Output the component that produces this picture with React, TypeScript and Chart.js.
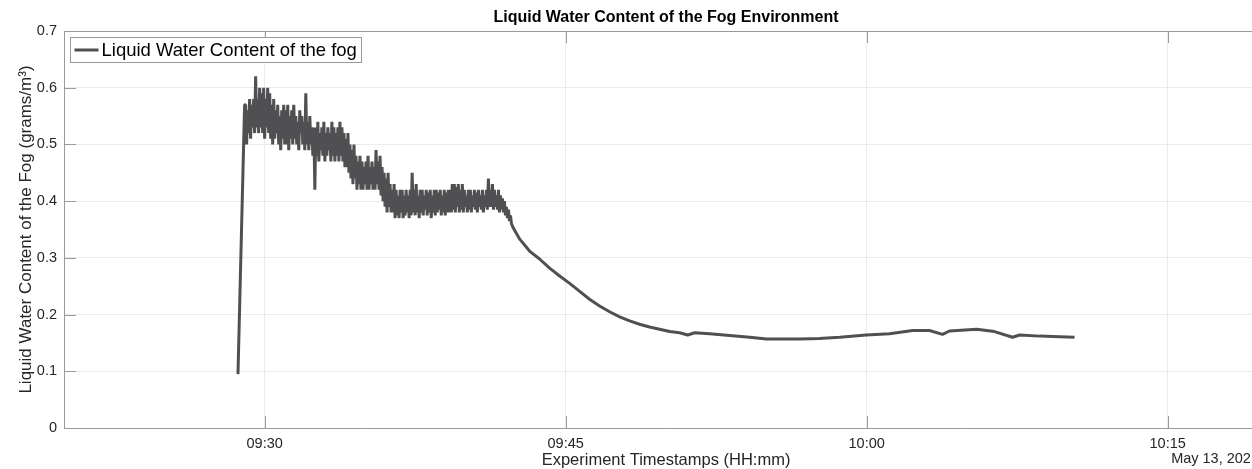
import { useEffect, useRef } from 'react';
import { Chart, registerables } from 'chart.js';

Chart.register(...registerables);

// ---------- text ----------
const chartTitle = 'Liquid Water Content of the Fog Environment';
const seriesLabel = 'Liquid Water Content of the fog';
const yAxisTitle = 'Liquid Water Content of the Fog (grams/m\u00B3)';
const xAxisTitle = 'Experiment Timestamps (HH:mm)';
const dateLabel = 'May 13, 2021';

// ---------- axes (time in minutes after midnight) ----------
const xMin = 560; // 09:20
const xMax = 620; // 10:20
const xTickMinutes = [570, 585, 600, 615];
const xTickLabels = ['09:30', '09:45', '10:00', '10:15'];
const yMin = 0;
const yMax = 0.7;
const yStep = 0.1;

// ---------- data ----------
// sharp rise at the start of the fog
const riseTimes = [568.67, 569.0];
const riseValues = [0.095, 0.57];

// noisy part: every 0.1 min from 09:29:03 the sensor swings between an upper and a lower reading
const noisyStart = 569.05;
const noisyStep = 0.1;
const noisyUpper = [
  0.57, 0.56, 0.58, 0.57, 0.58, 0.62,
  0.58, 0.60, 0.59, 0.60, 0.58, 0.60, 0.59,
  0.57, 0.58, 0.56, 0.57, 0.55, 0.56, 0.57,
  0.56, 0.57, 0.55, 0.56, 0.57, 0.55, 0.54, 0.56, 0.55, 0.54,
  0.59,
  0.54, 0.55, 0.53,
  0.53,
  0.53, 0.54, 0.52, 0.53, 0.54, 0.52, 0.53, 0.52, 0.54, 0.53, 0.52,
  0.53, 0.54, 0.53, 0.52, 0.51,
  0.52, 0.50, 0.49, 0.50, 0.48, 0.47, 0.48,
  0.47, 0.46, 0.47, 0.48, 0.46, 0.47, 0.46,
  0.49,
  0.47, 0.48, 0.46, 0.45, 0.44, 0.45, 0.43,
  0.42, 0.43, 0.42, 0.41, 0.42, 0.42, 0.41, 0.42, 0.41, 0.42,
  0.45,
  0.42, 0.43, 0.41, 0.42, 0.42, 0.41, 0.42, 0.415, 0.42, 0.41, 0.42, 0.42, 0.415, 0.42, 0.41, 0.42, 0.415, 0.42,
  0.42, 0.43, 0.43, 0.425, 0.43, 0.42, 0.43, 0.42, 0.41, 0.42,
  0.42, 0.41, 0.42, 0.415, 0.42, 0.41, 0.42, 0.41, 0.42,
  0.44,
  0.42, 0.43, 0.42, 0.41, 0.42,
  0.41, 0.405, 0.40, 0.39, 0.385, 0.375,
];
const noisyLower = [
  0.50, 0.52, 0.51, 0.53, 0.52, 0.53,
  0.52, 0.53, 0.52, 0.51, 0.53, 0.52, 0.51,
  0.50, 0.51, 0.52, 0.50, 0.49, 0.51, 0.50,
  0.50, 0.49, 0.51, 0.50, 0.51, 0.50, 0.49, 0.52, 0.50, 0.49,
  0.50,
  0.49, 0.50, 0.48,
  0.42,
  0.48, 0.47, 0.49, 0.48, 0.47, 0.48, 0.49, 0.47, 0.48, 0.47, 0.48,
  0.47, 0.48, 0.47, 0.46, 0.46,
  0.45, 0.44, 0.43, 0.44, 0.42, 0.43, 0.42,
  0.42, 0.43, 0.42, 0.42, 0.43, 0.42, 0.42,
  0.43,
  0.42, 0.41, 0.40, 0.39, 0.38, 0.39, 0.38,
  0.38, 0.37, 0.375, 0.37, 0.38, 0.37, 0.375, 0.38, 0.37, 0.375,
  0.38,
  0.375, 0.38, 0.37, 0.38, 0.375, 0.385, 0.375, 0.38, 0.37, 0.38, 0.375, 0.38, 0.385, 0.375, 0.38, 0.375, 0.38, 0.38,
  0.38, 0.385, 0.38, 0.39, 0.38, 0.385, 0.38, 0.39, 0.38, 0.385,
  0.38, 0.39, 0.385, 0.38, 0.39, 0.385, 0.38, 0.39, 0.385,
  0.39,
  0.39, 0.385, 0.39, 0.385, 0.38,
  0.385, 0.38, 0.375, 0.37, 0.365, 0.36,
];

// smooth decay and plateau
const smoothTimes = [
  582.4, 582.71, 583.2, 583.7, 584.2, 584.7, 585.2, 585.7, 586.19, 586.69,
  587.19, 587.69, 588.19, 588.68, 589.18, 589.68, 590.18, 590.68, 591.08, 591.43,
  592.17, 593.17, 594.17, 595.01, 595.91, 596.66, 597.65, 598.65, 599.99, 601.14,
  602.29, 603.13, 603.78, 604.13, 605.48, 606.37, 607.27, 607.62, 608.62, 609.61,
  610.36,
];
const smoothValues = [
  0.352, 0.333, 0.312, 0.298, 0.282, 0.268, 0.255, 0.241, 0.227, 0.215,
  0.205, 0.196, 0.189, 0.183, 0.178, 0.174, 0.17, 0.168, 0.164, 0.168,
  0.166, 0.163, 0.16, 0.157, 0.157, 0.157, 0.158, 0.16, 0.164, 0.166,
  0.172, 0.172, 0.165, 0.171, 0.174, 0.17, 0.16, 0.164, 0.162, 0.161,
  0.16,
];

// ---------- styles ----------
const FONT = "'Liberation Sans', Arial, Helvetica, sans-serif";
const LINE_COLOR = '#505052';
const TEXT_COLOR = '#262626';
const AXIS_COLOR = '#9a9a9a';
const GRID_COLOR = '#ebebeb';

function buildPoints() {
  const pts: { x: number; y: number }[] = [];
  riseTimes.forEach((t, i) => pts.push({ x: t, y: riseValues[i] }));
  noisyUpper.forEach((u, i) => {
    const t = noisyStart + i * noisyStep;
    pts.push({ x: t, y: u });
    pts.push({ x: t + noisyStep / 2, y: noisyLower[i] });
  });
  smoothTimes.forEach((t, i) => pts.push({ x: t, y: smoothValues[i] }));
  return pts;
}

const matlabFrame = {
  id: 'matlabFrame',
  beforeDatasetsDraw(chart: any) {
    const { ctx, chartArea } = chart;
    const xs = chart.scales.x;
    const ys = chart.scales.y;
    const len = 12;
    ctx.save();
    ctx.strokeStyle = AXIS_COLOR;
    ctx.lineWidth = 1;
    ctx.beginPath();
    xTickMinutes.forEach((m) => {
      const px = Math.round(xs.getPixelForValue(m)) + 0.5;
      ctx.moveTo(px, chartArea.bottom);
      ctx.lineTo(px, chartArea.bottom - len);
      ctx.moveTo(px, chartArea.top);
      ctx.lineTo(px, chartArea.top + len);
    });
    ys.ticks.forEach((t: any) => {
      const py = Math.round(ys.getPixelForValue(t.value)) + 0.5;
      ctx.moveTo(chartArea.left, py);
      ctx.lineTo(chartArea.left + len, py);
      ctx.moveTo(chartArea.right, py);
      ctx.lineTo(chartArea.right - len, py);
    });
    ctx.stroke();
    ctx.restore();
  },
  afterDraw(chart: any) {
    const { ctx, chartArea } = chart;
    ctx.save();
    // box
    ctx.strokeStyle = AXIS_COLOR;
    ctx.lineWidth = 1;
    ctx.beginPath();
    ctx.moveTo(chartArea.left, Math.round(chartArea.top) + 0.5);
    ctx.lineTo(chartArea.right, Math.round(chartArea.top) + 0.5);
    ctx.moveTo(Math.round(chartArea.right) - 0.5, chartArea.top);
    ctx.lineTo(Math.round(chartArea.right) - 0.5, chartArea.bottom);
    ctx.stroke();

    // legend
    const ds = chart.data.datasets[0];
    ctx.font = `18.5px ${FONT}`;
    const tw = ctx.measureText(ds.label).width;
    const bx = Math.round(chartArea.left) + 6.5;
    const by = Math.round(chartArea.top) + 6.5;
    const bw = Math.round(tw + 36);
    const bh = 25;
    ctx.fillStyle = '#ffffff';
    ctx.fillRect(bx, by, bw, bh);
    ctx.strokeStyle = AXIS_COLOR;
    ctx.strokeRect(bx, by, bw, bh);
    ctx.strokeStyle = ds.borderColor;
    ctx.lineWidth = 3;
    ctx.beginPath();
    ctx.moveTo(bx + 4, by + bh / 2);
    ctx.lineTo(bx + 28, by + bh / 2);
    ctx.stroke();
    ctx.fillStyle = '#000000';
    ctx.textAlign = 'left';
    ctx.textBaseline = 'middle';
    ctx.fillText(ds.label, bx + 31, by + bh / 2 + 1);

    // date label
    ctx.font = `14.5px ${FONT}`;
    ctx.fillStyle = TEXT_COLOR;
    ctx.textAlign = 'right';
    ctx.textBaseline = 'middle';
    ctx.fillText(dateLabel, chartArea.right - 9, chartArea.bottom + 31);
    ctx.restore();
  },
};

export default function App() {
  const ref = useRef<HTMLCanvasElement | null>(null);

  useEffect(() => {
    document.body.style.margin = '0';
    if (!ref.current) return;
    const chart = new Chart(ref.current, {
      type: 'line',
      data: {
        datasets: [
          {
            label: seriesLabel,
            data: buildPoints(),
            borderColor: LINE_COLOR,
            backgroundColor: LINE_COLOR,
            borderWidth: 3,
            borderJoinStyle: 'bevel',
            pointRadius: 0,
            tension: 0,
            fill: false,
          },
        ],
      },
      options: {
        animation: false,
        responsive: false,
        devicePixelRatio: 1,
        events: [],
        layout: { padding: { left: 0, right: 2, top: 0, bottom: 0 } },
        plugins: {
          legend: { display: false },
          tooltip: { enabled: false },
          title: {
            display: true,
            fullSize: false,
            text: chartTitle,
            color: '#000000',
            font: { family: FONT, size: 16, weight: 'bold', lineHeight: 1.2 },
            padding: { top: 8, bottom: 3.8 },
          },
        },
        scales: {
          x: {
            type: 'linear',
            min: xMin,
            max: xMax,
            afterBuildTicks: (s: any) => {
              s.ticks = xTickMinutes.map((v) => ({ value: v }));
            },
            afterFit: (s: any) => {
              s.height = 41;
            },
            grid: { color: GRID_COLOR, drawTicks: false },
            border: { color: AXIS_COLOR },
            ticks: {
              autoSkip: false,
              maxRotation: 0,
              padding: 7,
              color: TEXT_COLOR,
              font: { family: FONT, size: 14.5 },
              callback: (v: any) => {
                const i = xTickMinutes.indexOf(Number(v));
                return i >= 0 ? xTickLabels[i] : '';
              },
            },
            title: {
              display: true,
              text: xAxisTitle,
              color: TEXT_COLOR,
              font: { family: FONT, size: 16.5, lineHeight: 1 },
              padding: { top: 0, bottom: 0 },
            },
          },
          y: {
            min: yMin,
            max: yMax,
            afterFit: (s: any) => {
              s.width = 64;
            },
            grid: { color: GRID_COLOR, drawTicks: false },
            border: { color: AXIS_COLOR },
            ticks: {
              stepSize: yStep,
              padding: 7,
              color: TEXT_COLOR,
              font: { family: FONT, size: 14.5 },
              callback: (v: any) => String(Number(Number(v).toFixed(1))),
            },
            title: {
              display: true,
              text: yAxisTitle,
              color: TEXT_COLOR,
              font: { family: FONT, size: 17, lineHeight: 1.2 },
              padding: { top: 16.5, bottom: 0 },
            },
          },
        },
      },
      plugins: [matlabFrame],
    });
    return () => chart.destroy();
  }, []);

  return (
    <div style={{ width: 1252, height: 469, overflow: 'hidden', background: '#ffffff' }}>
      <canvas ref={ref} width={1270} height={469} style={{ display: 'block' }} />
    </div>
  );
}
